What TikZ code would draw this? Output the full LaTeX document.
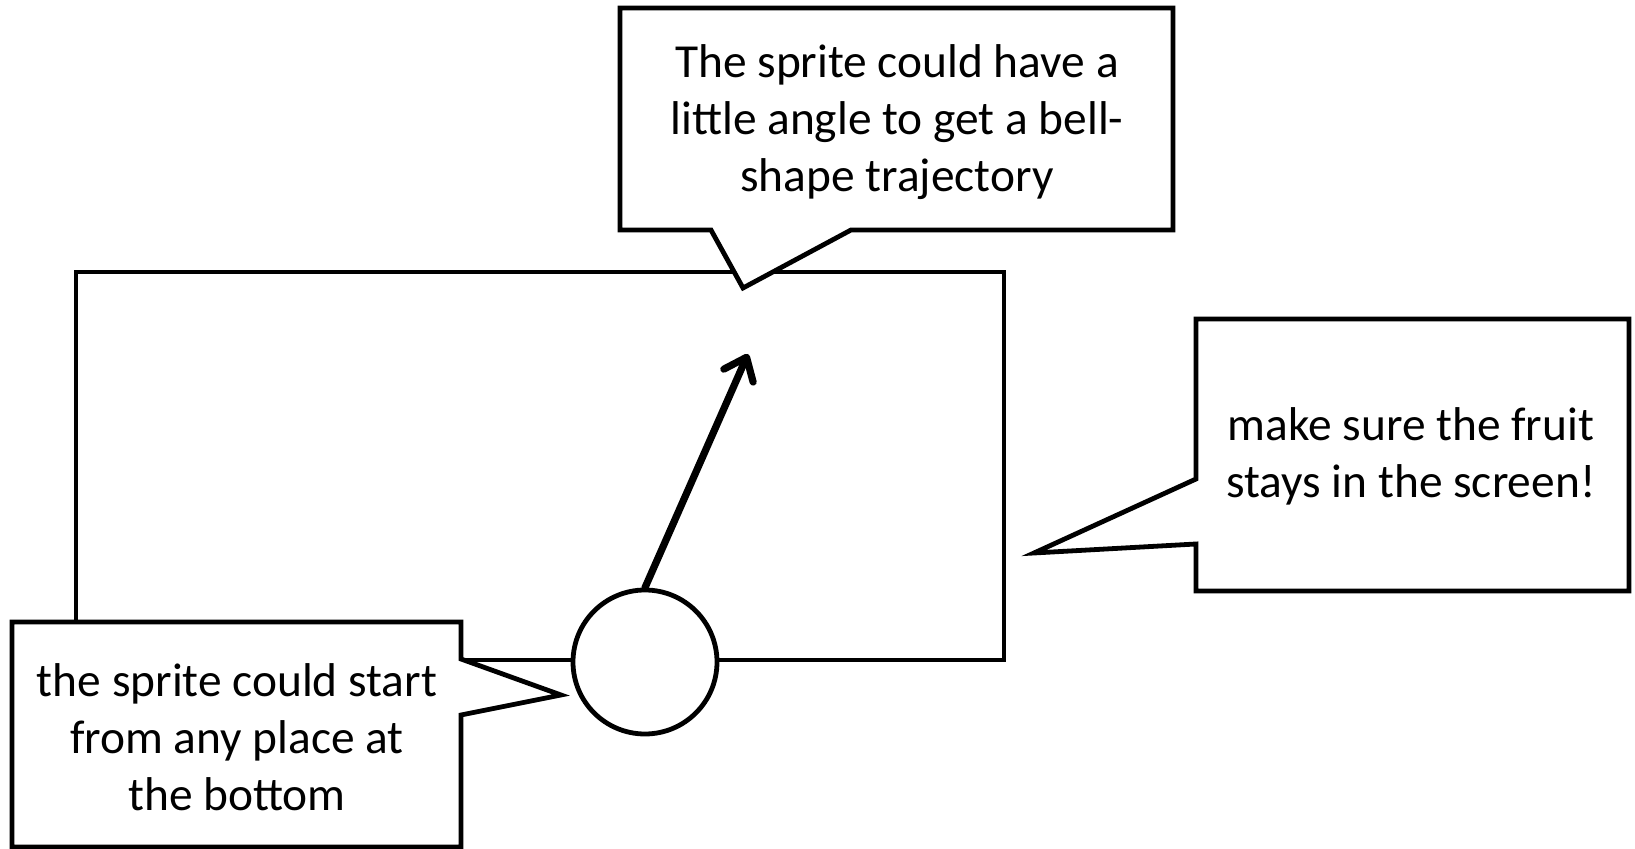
\documentclass[tikz,border=0pt]{standalone}
\usepackage{fontspec}
\setmainfont{Carlito}
\usetikzlibrary{arrows.meta}
\tikzset{
  outline/.style={draw=black, fill=white, line width=2.4pt, line join=miter},
  label/.style={align=center, font=\fontsize{23.7}{28.6}\selectfont, inner sep=0pt},
  pointer/.style={line width=3.6pt, line cap=round, -{Straight Barb[length=10pt,width=16pt,round]}}
}
\begin{document}
\begin{tikzpicture}[x=0.5pt,y=-0.5pt]
\useasboundingbox (0,0) rectangle (1635,849);
% screen
\draw[outline, fill=none] (76,272) rectangle (1004,660);
% top callout
\draw[outline] (620,8) -- (1173,8) -- (1173,230) -- (851,230) -- (743,288) -- (711,230) -- (620,230) -- cycle;
\node[label] (toptext) at (897,122) {The sprite could have a\\little angle to get a bell-\\shape trajectory};
% right callout
\draw[outline] (1196,319) -- (1629,319) -- (1629,591) -- (1196,591) -- (1196,544) -- (1034,553) -- (1196,479) -- cycle;
\node[label] (righttext) at (1411,456) {make sure the fruit\\stays in the screen!};
% left callout
\draw[outline] (12,622) -- (461,622) -- (461,659) -- (561,695) -- (461,715) -- (461,847) -- (12,847) -- cycle;
\node[label] (lefttext) at (237,737) {the sprite could start\\from any place at\\the bottom};
% sprite
\node[outline, circle, minimum size=72pt, inner sep=0pt] (sprite) at (645,662) {};
\coordinate (aim) at (748,354);
\draw[pointer] (sprite.north) -- (aim);
\end{tikzpicture}
\end{document}
